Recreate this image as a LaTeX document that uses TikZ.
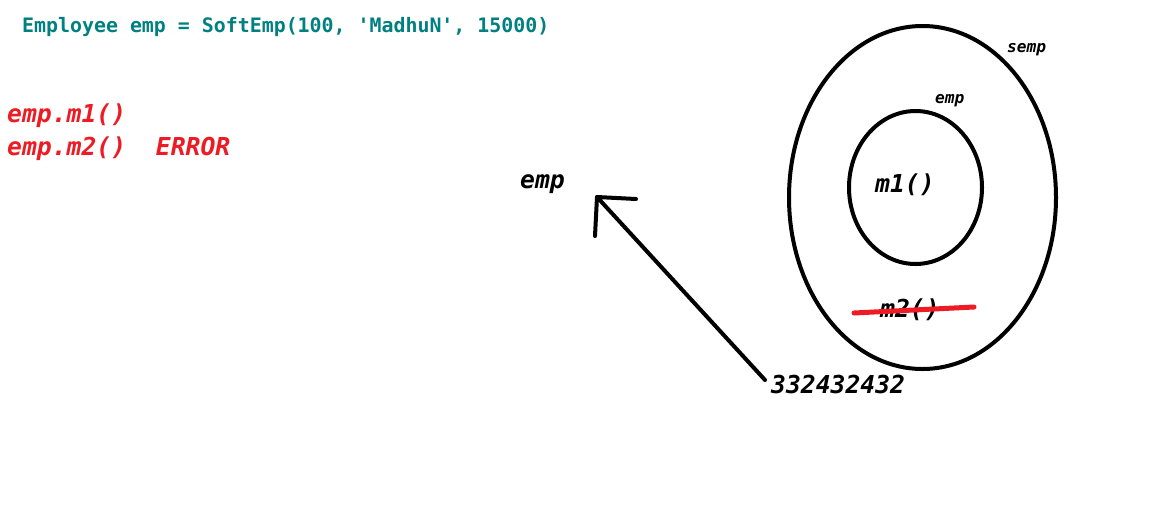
\documentclass[tikz,border=0pt]{standalone}
\usepackage{fontspec}
\usetikzlibrary{shapes.geometric}
\setmonofont{DejaVu Sans Mono}
\definecolor{tealc}{RGB}{0,128,128}
\definecolor{redc}{RGB}{237,28,36}
\tikzset{
  code/.style={anchor=base west, inner sep=0pt, font=\ttfamily\bfseries\fontsize{19.9}{24}\selectfont, text=tealc},
  redtxt/.style={anchor=base west, inner sep=0pt, font=\ttfamily\bfseries\itshape\fontsize{24.7}{28}\selectfont, text=redc},
  bigtxt/.style={anchor=base west, inner sep=0pt, font=\ttfamily\bfseries\itshape\fontsize{24.7}{28}\selectfont, text=black},
  smalltxt/.style={anchor=base west, inner sep=0pt, font=\ttfamily\bfseries\itshape\fontsize{16.2}{20}\selectfont, text=black},
  ring/.style={draw=black, line width=4pt},
  pen/.style={draw=black, line width=4pt, line cap=round, line join=round},
  strike/.style={draw=redc, line width=5pt, line cap=round}
}
\begin{document}
\begin{tikzpicture}[x=1pt,y=-1pt]
\useasboundingbox (0,0) rectangle (1164,523);
\fill[white] (0,0) rectangle (1164,523);
% code line
\node[code] (codeline) at (22,32) {Employee emp = SoftEmp(100, 'MadhuN', 15000)};
% red calls
\node[redtxt] (call1) at (7,122) {emp.m1()};
\node[redtxt] (call2) at (7,155) {emp.m2()\ \ ERROR};
% ellipses
\node[ring, ellipse, minimum width=267pt, minimum height=343pt, inner sep=0pt] (semp) at (922.5,197.5) {};
\node[ring, ellipse, minimum width=133pt, minimum height=153pt, inner sep=0pt] (empobj) at (915.5,187.5) {};
\node[smalltxt] (semplbl) at (1007,52) {semp};
\node[smalltxt] (emplbl) at (935,103) {emp};
\node[bigtxt] (m1) at (875,192) {m1()};
\node[bigtxt] (m2) at (880,317) {m2()};
\coordinate (sa) at (854,313);
\coordinate (sb) at (974,307);
\draw[strike] (sa) -- (sb);
% reference
\node[bigtxt] (ref) at (520,188) {emp};
\node[bigtxt] (addr) at (771,393) {332432432};
\coordinate (tail) at (765,380);
\coordinate (head) at (597,197);
\coordinate (barbA) at (636,199);
\coordinate (barbB) at (595,236);
\draw[pen] (tail) -- (head) -- (barbA);
\draw[pen] (head) -- (barbB);
\end{tikzpicture}
\end{document}
